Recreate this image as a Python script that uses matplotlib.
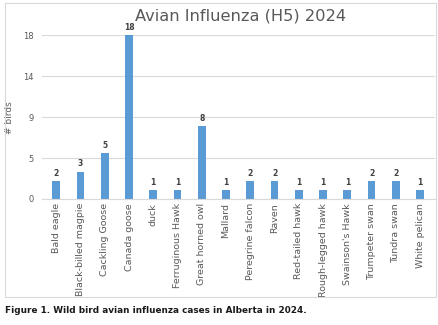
import matplotlib.pyplot as plt
from matplotlib.patches import Rectangle

# data
species = ["Bald eagle", "Black-billed magpie", "Cackling Goose", "Canada goose",
           "duck", "Ferruginous Hawk", "Great horned owl", "Mallard",
           "Peregrine falcon", "Raven", "Red-tailed hawk", "Rough-legged hawk",
           "Swainson's Hawk", "Trumpeter swan", "Tundra swan", "White pelican"]
cases = [2, 3, 5, 18, 1, 1, 8, 1, 2, 2, 1, 1, 1, 2, 2, 1]
ytick_vals = [0, 4.5, 9, 13.5, 18]
ytick_labels = ["0", "5", "9", "14", "18"]

BAR_COLOR = "#5B9BD5"
GRID_COLOR = "#D9D9D9"
TEXT_COLOR = "#595959"

fig = plt.figure(figsize=(4.39, 3.25), dpi=100)

# chart frame
fig.patches.append(Rectangle((0.012, 0.085), 0.982, 0.905, transform=fig.transFigure,
                             fill=False, edgecolor=GRID_COLOR, linewidth=0.8))

ax = fig.add_axes([0.095, 0.388, 0.895, 0.503])

x = range(len(species))
bars = ax.bar(x, cases, width=0.32, color=BAR_COLOR, zorder=3)

for xi, v in zip(x, cases):
    ax.text(xi, v + 0.35, str(v), ha="center", va="bottom",
            fontsize=5.5, color="#404040", fontweight="bold")

ax.set_ylim(0, 18)
ax.set_xlim(-0.6, len(species) - 0.4)
ax.set_yticks(ytick_vals)
ax.set_yticklabels(ytick_labels, fontsize=6, color=TEXT_COLOR)
ax.set_xticks(list(x))
ax.set_xticklabels(species, rotation=90, fontsize=6.8, color=TEXT_COLOR)
ax.tick_params(length=0, pad=6)
ax.tick_params(axis="x", pad=3)

ax.grid(axis="y", color=GRID_COLOR, linewidth=0.8, zorder=0)
for side in ["top", "right", "left"]:
    ax.spines[side].set_visible(False)
ax.spines["bottom"].set_color(GRID_COLOR)
ax.spines["bottom"].set_zorder(4)

ax.set_ylabel("# birds", fontsize=6.5, color=TEXT_COLOR, labelpad=6)

fig.text(0.549, 0.952, "Avian Influenza (H5) 2024", ha="center", va="center",
         fontsize=11.7, color=TEXT_COLOR)

fig.text(0.012, 0.045, "Figure 1. Wild bird avian influenza cases in Alberta in 2024.",
         ha="left", va="center", fontsize=6.4, fontweight="bold", color="#1a1a1a")

plt.savefig("out.png", dpi=100)
plt.close()
